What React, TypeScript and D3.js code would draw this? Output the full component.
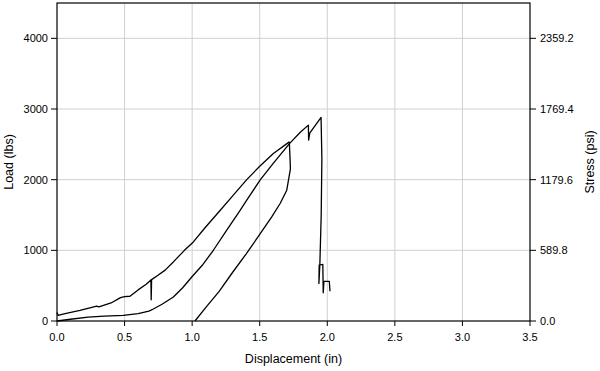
import React from "react";
import * as d3 from "d3";

// Displacement (in) / Load (lbs) for the three traces
const loadingDisp = [0, 0.008, 0.06, 0.17, 0.294, 0.31, 0.4, 0.47, 0.5, 0.54, 0.6, 0.66, 0.695, 0.697, 0.7, 0.75, 0.8, 0.861, 0.943, 1.009, 1.1, 1.2, 1.3, 1.404, 1.5, 1.601, 1.719];
const loadingLoad = [120, 80, 105, 150, 210, 200, 255, 330, 345, 350, 440, 520, 580, 300, 585, 650, 720, 836, 1000, 1119, 1330, 1550, 1770, 2000, 2190, 2371, 2535];

const reloadDisp = [0, 0.1, 0.23, 0.35, 0.49, 0.6, 0.68, 0.713, 0.78, 0.861, 0.93, 0.997, 1.08, 1.157, 1.256, 1.355, 1.404, 1.505, 1.6, 1.72, 1.8, 1.86, 1.862, 1.87, 1.954, 1.96, 1.955, 1.945, 1.938, 1.94, 1.967, 1.97, 1.975, 2.015, 2.02];
const reloadLoad = [0, 25, 55, 68, 81, 105, 140, 170, 240, 340, 470, 623, 800, 1001, 1285, 1565, 1710, 2000, 2230, 2510, 2670, 2772, 2560, 2660, 2881, 2300, 1500, 800, 530, 790, 800, 400, 560, 560, 420];

const unloadDisp = [1.719, 1.725, 1.727, 1.717, 1.7, 1.651, 1.589, 1.5, 1.4, 1.3, 1.2, 1.1, 1.021];
const unloadLoad = [2535, 2276, 2150, 2040, 1851, 1663, 1473, 1225, 950, 690, 420, 190, 0];

const xTicks = [0, 0.5, 1.0, 1.5, 2.0, 2.5, 3.0, 3.5];
const loadTicks = [0, 1000, 2000, 3000, 4000];
const stressTicks = [0.0, 589.8, 1179.6, 1769.4, 2359.2];
const stressPerLb = 0.5898;
const loadMax = 4500;
const dispMax = 3.5;

const W = 600, H = 371;
const M = { left: 57, right: 530, top: 3, bottom: 321 };
const FONT = "'Liberation Sans', Arial, sans-serif";

export default function App() {
  const x = d3.scaleLinear().domain([0, dispMax]).range([M.left, M.right]);
  const y = d3.scaleLinear().domain([0, loadMax]).range([M.bottom, M.top]);
  const yS = d3.scaleLinear().domain([0, loadMax * stressPerLb]).range([M.bottom, M.top]);
  const line = d3.line<[number, number]>().x(d => x(d[0])).y(d => y(d[1]));
  const series = [
    d3.zip(loadingDisp, loadingLoad) as [number, number][],
    d3.zip(reloadDisp, reloadLoad) as [number, number][],
    d3.zip(unloadDisp, unloadLoad) as [number, number][],
  ];
  const tickFs = 11;
  const titleFs = 12.5;
  return (
    <svg width={W} height={H} style={{ position: "absolute", left: 0, top: 0, background: "#fff" }} fontFamily={FONT}>
      <rect x={0} y={0} width={W} height={H} fill="#fff" />
      {/* gridlines */}
      {xTicks.filter(t => t > 0 && t < dispMax).map(t => (
        <line key={"gx" + t} x1={x(t)} x2={x(t)} y1={M.top} y2={M.bottom} stroke="#d0d0d0" strokeWidth={1} />
      ))}
      {loadTicks.filter(t => t > 0).map(t => (
        <line key={"gy" + t} x1={M.left} x2={M.right} y1={y(t)} y2={y(t)} stroke="#d0d0d0" strokeWidth={1} />
      ))}
      {/* data */}
      {series.map((s, i) => (
        <path key={i} d={line(s) || ""} fill="none" stroke="#000" strokeWidth={1.3} strokeLinejoin="round" />
      ))}
      {/* frame */}
      <rect x={M.left} y={M.top} width={M.right - M.left} height={M.bottom - M.top} fill="none" stroke="#000" strokeWidth={1.2} />
      {/* left axis */}
      {loadTicks.map(t => (
        <g key={"ly" + t}>
          <line x1={M.left - 6} x2={M.left} y1={y(t)} y2={y(t)} stroke="#000" />
          <text x={M.left - 9} y={y(t)} dy="0.35em" textAnchor="end" fontSize={tickFs}>{t}</text>
        </g>
      ))}
      {/* right axis */}
      {stressTicks.map(t => (
        <g key={"ry" + t}>
          <line x1={M.right} x2={M.right + 6} y1={yS(t)} y2={yS(t)} stroke="#000" />
          <text x={M.right + 10} y={yS(t)} dy="0.35em" textAnchor="start" fontSize={tickFs}>{t.toFixed(1)}</text>
        </g>
      ))}
      {/* bottom axis */}
      {xTicks.map(t => (
        <g key={"bx" + t}>
          <line x1={x(t)} x2={x(t)} y1={M.bottom} y2={M.bottom + 5} stroke="#000" />
          <text x={x(t)} y={337} dy="0.35em" textAnchor="middle" fontSize={tickFs}>{t.toFixed(1)}</text>
        </g>
      ))}
      <text x={(M.left + M.right) / 2} y={359} dy="0.35em" textAnchor="middle" fontSize={titleFs}>Displacement (in)</text>
      <text transform={`translate(9,${(M.top + M.bottom) / 2}) rotate(-90)`} dy="0.35em" textAnchor="middle" fontSize={titleFs}>Load (lbs)</text>
      <text transform={`translate(590,${(M.top + M.bottom) / 2}) rotate(-90)`} dy="0.35em" textAnchor="middle" fontSize={titleFs}>Stress (psi)</text>
    </svg>
  );
}
